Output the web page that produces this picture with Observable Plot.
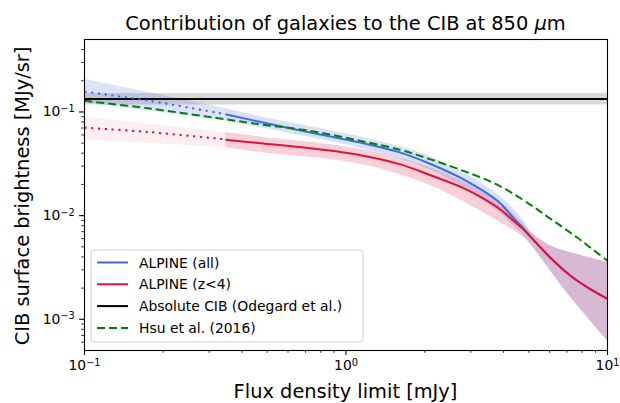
<!DOCTYPE html>
<html><head><meta charset="utf-8">
<script src="https://cdn.jsdelivr.net/npm/d3@7"></script>
<script src="https://cdn.jsdelivr.net/npm/@observablehq/plot@0.6"></script>
<style>
body{margin:0;background:#fff;}
svg{font-family:"DejaVu Sans",sans-serif;}
</style>
</head><body><div id="chart"></div>
<script>
// ALPINE (all): measured range (solid) and extrapolation (dotted)
const allX = [0.346, 0.471, 0.731, 1.136, 1.616, 2.104, 2.814, 3.796, 4.33, 4.77, 5.08, 6.05, 7.22, 8.38, 10];
const allY = [0.095, 0.080, 0.0633, 0.0506, 0.0405, 0.0315, 0.0224, 0.0139, 0.0097, 0.0075, 0.00625, 0.00392, 0.00263, 0.00203, 0.00157];
const allExtX = [0.1, 0.174, 0.346];
const allExtY = [0.157, 0.129, 0.095];
// ALPINE (z<4)
const z4X = [0.346, 0.471, 0.731, 1.136, 1.616, 2.104, 2.814, 3.796, 4.33, 4.77, 5.08, 6.05, 7.22, 8.38, 10];
const z4Y = [0.054, 0.0499, 0.0446, 0.0383, 0.0312, 0.0245, 0.0184, 0.0120, 0.0091, 0.0074, 0.00625, 0.00392, 0.00263, 0.00203, 0.00157];
const z4ExtX = [0.1, 0.174, 0.346];
const z4ExtY = [0.0706, 0.0641, 0.0545];
// Uncertainty bands
const bandX = [0.346, 0.471, 1.136, 2.104, 3.796, 4.77, 5.08, 6.05, 7.22, 10];
const allHi = [0.108, 0.090, 0.0574, 0.037, 0.0161, 0.0090, 0.0070, 0.00512, 0.0044, 0.00353];
const allLo = [0.082, 0.0706, 0.0446, 0.0275, 0.011, 0.0064, 0.0053, 0.00294, 0.00163, 0.00062];
const z4Hi = [0.0632, 0.0574, 0.0437, 0.029, 0.0139, 0.0084, 0.0070, 0.00512, 0.0044, 0.00353];
const z4Lo = [0.0453, 0.0406, 0.0313, 0.0195, 0.0089, 0.0062, 0.0053, 0.00294, 0.00163, 0.00062];
const extBandX = [0.1, 0.346];
const allExtHi = [0.207, 0.108];
const allExtLo = [0.123, 0.082];
const z4ExtHi = [0.0895, 0.0632];
const z4ExtLo = [0.0537, 0.0453];
// Absolute CIB (Odegard et al.)
const cibX = [0.1, 10];
const cibY = [0.133, 0.133];
const cibLo = [0.117, 0.117];
const cibHi = [0.151, 0.151];
// Hsu et al. (2016)
const hsuX = [0.1, 0.174, 0.346, 0.471, 0.731, 1.136, 1.616, 2.104, 2.814, 3.796, 5.08, 5.90, 6.79, 7.68, 8.61, 10];
const hsuY = [0.128, 0.1086, 0.085, 0.076, 0.0656, 0.0526, 0.0430, 0.0349, 0.0270, 0.0198, 0.0127, 0.00974, 0.00763, 0.00611, 0.0049, 0.00367];
// ticks
const xMajor = [0.1, 1, 10];
const xMinor = [0.2,0.3,0.4,0.5,0.6,0.7,0.8,0.9,2,3,4,5,6,7,8,9];
const yMajor = [0.001, 0.01, 0.1];
const yMinor = [6e-4,7e-4,8e-4,9e-4,0.002,0.003,0.004,0.005,0.006,0.007,0.008,0.009,0.02,0.03,0.04,0.05,0.06,0.07,0.08,0.09,0.2,0.3,0.4];
// legend
const legendLabels = ["ALPINE (all)", "ALPINE (z<4)", "Absolute CIB (Odegard et al.)", "Hsu et al. (2016)"];
const legendColors = ["#4169E1", "#DC143C", "#000000", "#008000"];
const legendDash = [null, null, null, "8,4"];

const BLUE = "#4169E1", RED = "#DC143C", GREEN = "#008000";
const CURVE = "catmull-rom";
const fmt = d => "10^" + Math.round(Math.log10(d));
const band = (X, lo, hi, fill, op) => Plot.areaY(X, {x: d => d, y1: (d,i) => lo[i], y2: (d,i) => hi[i], fill, fillOpacity: op, curve: CURVE});
const line = (X, Y, stroke, dash) => Plot.line(X, {x: d => d, y: (d,i) => Y[i], stroke, strokeWidth: 2, strokeDasharray: dash, curve: CURVE, strokeLinecap: "butt"});

const chart = Plot.plot({
  width: 620, height: 403,
  marginTop: 39, marginRight: 13, marginBottom: 53, marginLeft: 84,
  style: {fontFamily: "DejaVu Sans", fontSize: "13.9px", background: "white", color: "black", overflow: "visible"},
  x: {type: "log", domain: [0.1, 10]},
  y: {type: "log", domain: [5e-4, 0.5]},
  marks: [
    band(cibX, cibLo, cibHi, "#000", 0.15),
    band(extBandX, allExtLo, allExtHi, BLUE, 0.18),
    band(bandX, allLo, allHi, BLUE, 0.2),
    band(extBandX, z4ExtLo, z4ExtHi, RED, 0.07),
    band(bandX, z4Lo, z4Hi, RED, 0.2),
    line(cibX, cibY, "#000", null),
    line(allExtX, allExtY, BLUE, "2.2,4.6"),
    line(z4ExtX, z4ExtY, RED, "2.2,4.6"),
    line(allX, allY, BLUE, null),
    line(z4X, z4Y, RED, null),
    line(hsuX, hsuY, GREEN, "8,4"),
    Plot.axisX({ticks: xMajor, tickFormat: fmt, tickSize: 4.9, tickPadding: 4.9, fontSize: 13.9, label: null, strokeWidth: 1.1}),
    Plot.axisX({ticks: xMinor, tickFormat: () => "", tickSize: 2.8, label: null, strokeWidth: 0.8}),
    Plot.axisY({ticks: yMajor, tickFormat: fmt, tickSize: 4.9, tickPadding: 4.9, fontSize: 13.9, label: null, strokeWidth: 1.1}),
    Plot.axisY({ticks: yMinor, tickFormat: () => "", tickSize: 2.8, label: null, strokeWidth: 0.8}),
    Plot.frame({stroke: "#000", strokeWidth: 1.1})
  ]
});
document.getElementById("chart").appendChild(chart);

const svg = d3.select(chart);
// superscript tick labels
svg.selectAll("text").each(function() {
  const t = this.textContent;
  const m = /^10\^(-?\d+)$/.exec(t);
  if (!m) return;
  const sel = d3.select(this);
  sel.text("");
  sel.append("tspan").text("10");
  sel.append("tspan").attr("dy", "-0.45em").attr("font-size", "0.7em").text(m[1].replace("-", "\u2212"));
});
// title
const title = svg.append("text").attr("x", 345.5).attr("y", 30).attr("text-anchor", "middle")
  .attr("font-size", 19.4).attr("fill", "black");
title.append("tspan").text("Contribution of galaxies to the CIB at 850 ");
title.append("tspan").attr("font-style", "italic").text("\u03bc");
title.append("tspan").text("m");
// axis labels
svg.append("text").attr("x", 345.5).attr("y", 398).attr("text-anchor", "middle")
  .attr("font-size", 19.4).attr("fill", "black").text("Flux density limit [mJy]");
svg.append("text").attr("transform", "translate(29,196) rotate(-90)").attr("text-anchor", "middle")
  .attr("font-size", 19.4).attr("fill", "black").text("CIB surface brightness [MJy/sr]");
// legend
const lg = svg.append("g").attr("text-anchor", "start");
lg.append("rect").attr("x", 91).attr("y", 250).attr("width", 272).attr("height", 92).attr("rx", 3)
  .attr("fill", "white").attr("fill-opacity", 0.8).attr("stroke", "#cccccc").attr("stroke-width", 1);
legendLabels.forEach((lab, i) => {
  const y = 262.5 + i * 21.8;
  lg.append("line").attr("x1", 97).attr("x2", 128).attr("y1", y).attr("y2", y)
    .attr("stroke", legendColors[i]).attr("stroke-width", 2).attr("stroke-dasharray", legendDash[i]);
  lg.append("text").attr("x", 139).attr("y", y).attr("dy", "0.36em").attr("font-size", 13.9)
    .attr("text-anchor", "start").attr("fill", "black").text(lab);
});
</script>
</body></html>
